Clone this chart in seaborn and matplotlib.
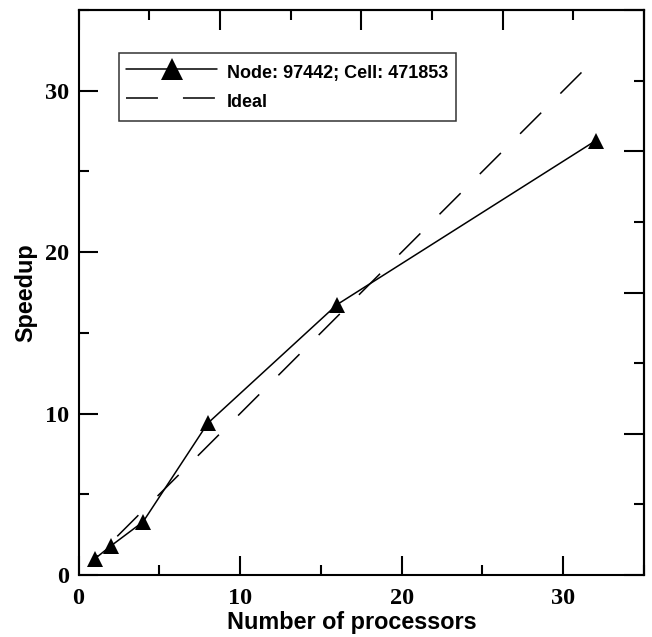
import matplotlib
matplotlib.use("Agg")
import matplotlib.pyplot as plt
from matplotlib.lines import Line2D
from matplotlib.ticker import MultipleLocator, NullFormatter
import seaborn as sns
import pandas as pd

# Parallel scaling measurements
processors = [1, 2, 4, 8, 16, 32]
speedup = [1.0, 1.8, 3.3, 9.4, 16.75, 26.9]
ideal = [1, 2, 4, 8, 16, 32]
series_label = "Node: 97442; Cell: 471853"
ideal_label = "Ideal"

df = pd.DataFrame({"procs": processors, "speedup": speedup, "ideal": ideal})

sns.set_style("ticks")
plt.rcParams.update({
    "lines.scale_dashes": False,
    "text.color": "black",
    "axes.labelcolor": "black",
    "xtick.color": "black",
    "ytick.color": "black",
    "xtick.labelcolor": "black",
    "ytick.labelcolor": "black",
})

fig = plt.figure(figsize=(6.52, 6.37), dpi=100)
ax = fig.add_axes([0.1204, 0.0973, 0.8673, 0.887])

lw = 1.1
dash = (21.5, 19.5)

sns.lineplot(data=df, x="procs", y="ideal", ax=ax, color="black", lw=lw,
             legend=False)
ax.lines[-1].set_linestyle((18, dash))
sns.lineplot(data=df, x="procs", y="speedup", ax=ax, color="black", lw=lw,
             marker="^", markersize=11, markeredgewidth=0, legend=False)

ax.set_xlim(0, 35)
ax.set_ylim(0, 35)

for s in ax.spines.values():
    s.set_linewidth(1.5)
    s.set_color("black")
    s.set_visible(True)

ax.xaxis.set_major_locator(MultipleLocator(10))
ax.xaxis.set_minor_locator(MultipleLocator(5))
ax.yaxis.set_major_locator(MultipleLocator(10))
ax.yaxis.set_minor_locator(MultipleLocator(5))
ax.tick_params(which="both", direction="in", width=1.5, color="black",
               top=False, right=False)
ax.tick_params(which="major", length=13.5, pad=9)
ax.tick_params(which="minor", length=7)
ax.tick_params(axis="y", which="major", pad=7)

for lab in ax.get_xticklabels() + ax.get_yticklabels():
    lab.set_fontfamily("Liberation Serif")
    lab.set_fontweight("bold")
    lab.set_fontsize(17.5)
    lab.set_color("black")

# Unlabelled eight-division scales on the top and right edges
fwd = (lambda v: v * 8 / 35, lambda v: v * 35 / 8)
top = ax.secondary_xaxis("top", functions=fwd)
right = ax.secondary_yaxis("right", functions=fwd)
for sec, axis in ((top, top.xaxis), (right, right.yaxis)):
    axis.set_major_locator(MultipleLocator(2))
    axis.set_minor_locator(MultipleLocator(1))
    axis.set_major_formatter(NullFormatter())
    axis.set_minor_formatter(NullFormatter())
    sec.tick_params(which="both", direction="in", width=1.5, color="black")
    sec.tick_params(which="major", length=14.5)
    sec.tick_params(which="minor", length=7)
    for s in sec.spines.values():
        s.set_linewidth(1.5)
        s.set_color("black")

label_font = {"family": "Liberation Sans", "weight": "bold", "size": 16.8,
              "color": "black"}
ax.set_xlabel("Number of processors", fontdict=label_font)
ax.xaxis.set_label_coords(0.483, -0.064)
ax.set_ylabel("Speedup", fontdict=label_font, labelpad=5)

handles = [
    Line2D([], [], color="black", lw=lw, marker="^", markersize=16,
           markeredgewidth=0),
    Line2D([], [], color="black", lw=lw, dashes=(23, 18)),
]
leg = ax.legend(handles, [series_label, ideal_label], loc="upper left",
                bbox_to_anchor=(0.0716, 0.9245), frameon=True, fancybox=False,
                handlelength=5.04, handleheight=1.74, handletextpad=0.55,
                borderpad=0.4, labelspacing=0.22, borderaxespad=0,
                prop={"family": "Liberation Sans", "weight": "bold", "size": 13})
leg.get_frame().set_edgecolor("black")
leg.get_frame().set_linewidth(1.1)
for t in leg.get_texts():
    t.set_color("black")

fig.savefig("out.png", dpi=100)
